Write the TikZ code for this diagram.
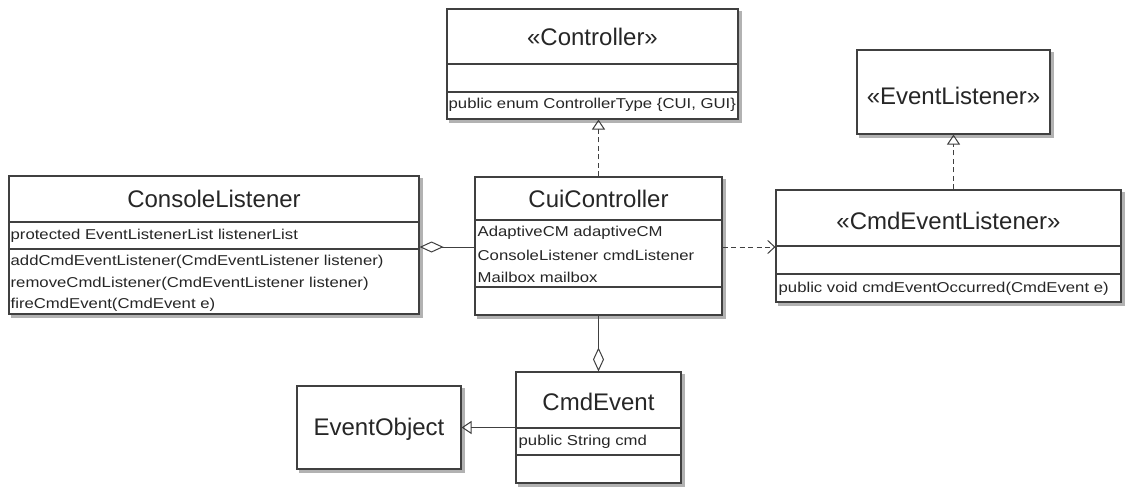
\documentclass[tikz,border=0pt]{standalone}
\usepackage{fontspec}
\setmainfont{Liberation Sans}
\newfontfamily\bodyfont[FakeStretch=1.17]{Liberation Sans}
\usetikzlibrary{arrows.meta,fit,backgrounds}
\begin{document}
\begin{tikzpicture}[x=1pt,y=-1pt,
  cls/.style={draw=black!75, line width=1.1pt, fill=white, inner sep=0pt},
  shadowbox/.style={fill=black!30},
  divider/.style={draw=black!75, line width=1.1pt},
  titletext/.style={inner sep=0pt, text=black!85, font=\fontsize{24}{28}\selectfont},
  bodytext/.style={inner sep=0pt, anchor=west, text=black!85, font=\bodyfont\fontsize{14.3}{17}\selectfont},
  conn/.style={draw=black!75, line width=1pt},
  dashedconn/.style={conn, dash pattern=on 5pt off 3.5pt},
  realize/.style={-{Triangle[open, length=10pt, width=13pt]}},
  depend/.style={-{Straight Barb[length=7pt, width=13pt]}},
  aggr/.style={-{Diamond[open, length=24pt, width=11pt]}}
]
\useasboundingbox (0,0) rectangle (1128,487);

% Controller
\node[cls, fit={(447,9) (738,119)}] (ctrl) {};
\draw[divider] (ctrl.west |- 0,64) -- (ctrl.east |- 0,64);
\draw[divider] (ctrl.west |- 0,92) -- (ctrl.east |- 0,92);
\node[titletext] (ctrlT) at (ctrl.center |- 0,37) {«Controller»};
\node[bodytext] (ctrlM) at ([xshift=2pt]ctrl.west |- 0,105) {public enum ControllerType \{CUI, GUI\}};

% CuiController
\node[cls, fit={(475,177) (722,315)}] (cui) {};
\draw[divider] (cui.west |- 0,220) -- (cui.east |- 0,220);
\draw[divider] (cui.west |- 0,287) -- (cui.east |- 0,287);
\node[titletext] (cuiT) at (cui.center |- 0,199) {CuiController};
\node[bodytext] (cuiA1) at ([xshift=3pt]cui.west |- 0,233) {AdaptiveCM adaptiveCM};
\node[bodytext] (cuiA2) at ([xshift=3pt]cui.west |- 0,255) {ConsoleListener cmdListener};
\node[bodytext] (cuiA3) at ([xshift=3pt]cui.west |- 0,277) {Mailbox mailbox};

% ConsoleListener
\node[cls, fit={(9,176) (419,314)}] (con) {};
\draw[divider] (con.west |- 0,222) -- (con.east |- 0,222);
\draw[divider] (con.west |- 0,249) -- (con.east |- 0,249);
\node[titletext] (conT) at (con.center |- 0,199) {ConsoleListener};
\node[bodytext] (conA1) at ([xshift=2pt]con.west |- 0,236) {protected EventListenerList listenerList};
\node[bodytext] (conM1) at ([xshift=2pt]con.west |- 0,262) {addCmdEventListener(CmdEventListener listener)};
\node[bodytext] (conM2) at ([xshift=2pt]con.west |- 0,284) {removeCmdListener(CmdEventListener listener)};
\node[bodytext] (conM3) at ([xshift=2pt]con.west |- 0,305) {fireCmdEvent(CmdEvent e)};

% EventListener
\node[cls, fit={(857,50) (1050,134)}] (el) {};
\node[titletext] (elT) at (el.center |- 0,96) {«EventListener»};

% CmdEventListener
\node[cls, fit={(776,190) (1121,302)}] (cel) {};
\draw[divider] (cel.west |- 0,246) -- (cel.east |- 0,246);
\draw[divider] (cel.west |- 0,274) -- (cel.east |- 0,274);
\node[titletext] (celT) at (cel.center |- 0,221) {«CmdEventListener»};
\node[bodytext] (celM) at ([xshift=3pt]cel.west |- 0,289) {public void cmdEventOccurred(CmdEvent e)};

% CmdEvent
\node[cls, fit={(516,372) (681,483)}] (ce) {};
\draw[divider] (ce.west |- 0,428) -- (ce.east |- 0,428);
\draw[divider] (ce.west |- 0,455) -- (ce.east |- 0,455);
\node[titletext] (ceT) at (ce.center |- 0,402) {CmdEvent};
\node[bodytext] (ceA) at ([xshift=3pt]ce.west |- 0,442) {public String cmd};

% EventObject
\node[cls, fit={(297,386) (461,469)}] (eo) {};
\node[titletext] (eoT) at (eo.center |- 0,429) {EventObject};

% Shadows and page background
\begin{pgfonlayer}{background}
\fill[white] (0,0) rectangle (1128,487);
\foreach \b in {ctrl,cui,con,el,cel,ce,eo}{
  \fill[shadowbox] ([shift={(3pt,-3pt)}]\b.south west) rectangle ([shift={(3pt,-3pt)}]\b.north east);
}
\end{pgfonlayer}

% Connectors
\coordinate (cuiL) at (cui.west |- 0,247);
\coordinate (cuiR) at (cui.east |- 0,247);
\draw[dashedconn, realize] (cui.north) -- (cui.north |- ctrl.south);
\draw[conn, aggr] (cuiL) -- (cuiL -| con.east);
\draw[dashedconn, depend] (cuiR) -- (cuiR -| cel.west);
\draw[dashedconn, realize] (el.south |- cel.north) -- (el.south);
\draw[conn, aggr] (cui.south) -- (ce.north);
\draw[conn, realize] (ce.west |- eo.east) -- (eo.east);
\end{tikzpicture}
\end{document}
